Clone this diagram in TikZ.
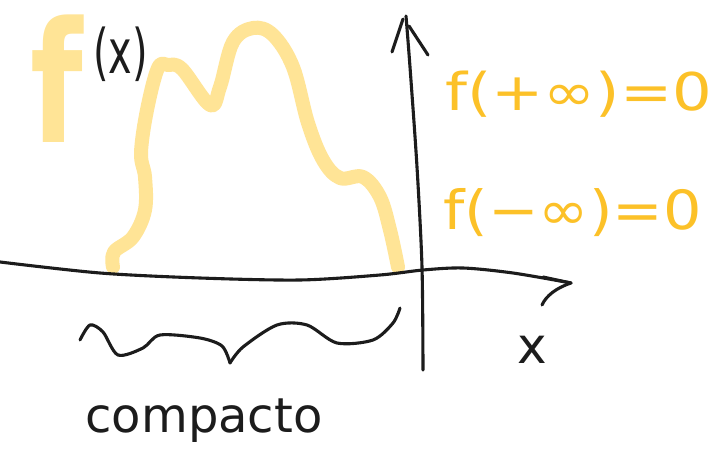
\documentclass[tikz,border=0pt]{standalone}
\usepackage{fontspec}
\setmainfont{DejaVu Sans}
\definecolor{hl}{RGB}{255,228,150}
\definecolor{ink}{RGB}{28,28,28}
\definecolor{gold}{RGB}{252,193,40}
\begin{document}
\begin{tikzpicture}[x=1pt,y=-1pt,line cap=round,line join=round,
  pen/.style={draw=ink,line width=3.1pt},
  marker/.style={draw=hl,line width=14pt},
  goldtext/.style={text=gold,inner sep=0pt},
  inktext/.style={text=ink,inner sep=0pt}]
\useasboundingbox (0,0) rectangle (715,465);
\fill[white] (0,0) rectangle (715,465);
% yellow function curve
\draw[marker] plot[smooth,tension=0.6] coordinates {(113,267) (114,252) (133,237) (145,210) (145,177) (141,153) (147,110) (158,68) (168,65) (182,69) (210,105) (220,87) (233,42) (253,28) (273,35) (293,67) (308,123) (323,160) (340,178) (363,177) (380,197) (390,230) (398,267)};
% big f
\node[text=hl,font=\bfseries\fontsize{168}{168}\selectfont,anchor=base west,inner sep=0pt] (bigf) at (30,143) {\scalebox{0.72}[1]{f}};
\node[inktext,font=\fontsize{48}{48}\selectfont,anchor=base west] (arg) at (93,74) {\scalebox{0.83}[1.28]{(x)}};
% axes
\coordinate (xstart) at (0,262);
\coordinate (xtip) at (571,283);
\coordinate (ybot) at (423,370);
\coordinate (ytip) at (406,16);
\draw[pen] plot[smooth] coordinates {(xstart) (100,273) (200,278) (300,280) (380,275) (423,270) (463,268) (513,273) (xtip)};
\draw[pen] (543,277) -- (xtip);
\draw[pen] (xtip) .. controls (556,288) and (546,296) .. (542,305);
\draw[pen] plot[smooth] coordinates {(ybot) (422,267) (417,167) (410,67) (ytip)};
\draw[pen] (392,52) -- (403,19);
\draw[pen] (409,26) -- (428,55);
% brace
\draw[pen] plot[smooth] coordinates {(80,340) (90,325) (103,332) (118,355) (143,348) (160,335) (200,338) (222,346) (230,363)};
\draw[pen] plot[smooth] coordinates {(230,363) (243,347) (277,325) (307,325) (337,343) (373,340) (393,323) (400,308)};
% labels
\node[inktext,font=\fontsize{48}{48}\selectfont,anchor=base] (cmp) at (204,432) {compacto};
\node[inktext,font=\fontsize{50}{50}\selectfont,anchor=base] (xl) at (532,363) {x};
\node[goldtext,font=\fontsize{52}{52}\selectfont,anchor=base west] (lim1) at (445,111) {\scalebox{1.2}[1]{f(+∞)=0}};
\node[goldtext,font=\fontsize{54}{54}\selectfont,anchor=base west] (lim2) at (443,230) {\scalebox{1.12}[1]{f(−∞)=0}};
\end{tikzpicture}
\end{document}
